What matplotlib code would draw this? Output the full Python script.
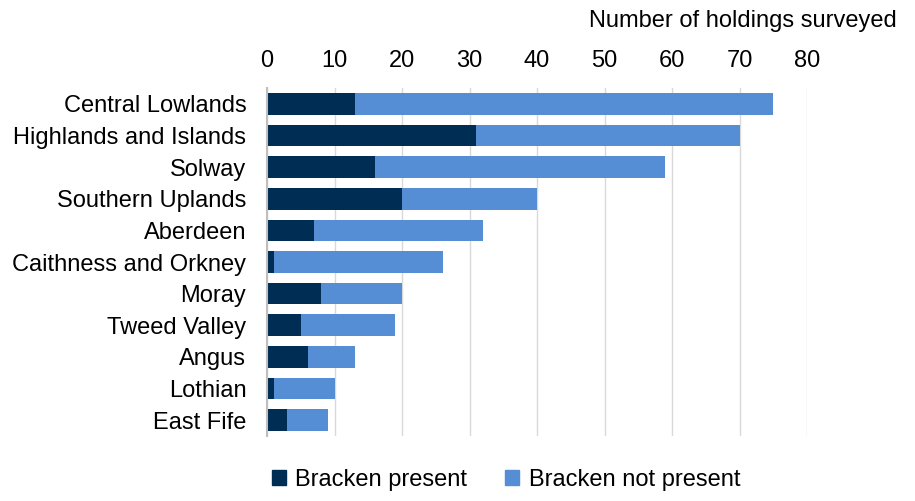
import matplotlib.pyplot as plt
from matplotlib.patches import Patch

plt.rcParams['font.family'] = ['Liberation Sans', 'DejaVu Sans']

regions = ["Central Lowlands", "Highlands and Islands", "Solway", "Southern Uplands",
           "Aberdeen", "Caithness and Orkney", "Moray", "Tweed Valley", "Angus",
           "Lothian", "East Fife"]
present = [13, 31, 16, 20, 7, 1, 8, 5, 6, 1, 3]
not_present = [62, 39, 43, 20, 25, 25, 12, 14, 7, 9, 6]

DARK = "#002D54"
LIGHT = "#558ED5"
FS = 17

fig = plt.figure(figsize=(9.15, 5.01), dpi=100)
ax = fig.add_axes([0.292, 0.130, 0.590, 0.694])

y = list(range(len(regions)))
ax.barh(y, present, height=0.68, color=DARK, zorder=3)
ax.barh(y, not_present, left=present, height=0.68, color=LIGHT, zorder=3)

ax.set_xlim(0, 80)
ax.set_ylim(len(regions) - 0.5, -0.5)
ax.set_yticks(y)
ax.set_yticklabels(regions, fontsize=FS)
ax.set_xticks(range(0, 81, 10))
ax.xaxis.tick_top()
ax.tick_params(axis='x', labelsize=FS, length=0, pad=12)
ax.tick_params(axis='y', length=0, pad=15)
ax.grid(axis='x', color="#D9D9D9", linewidth=1, zorder=0)
for s in ["top", "right", "bottom"]:
    ax.spines[s].set_visible(False)
ax.spines["left"].set_color("#BFBFBF")
ax.spines["left"].set_linewidth(1.5)
ax.spines["left"].set_zorder(4)

fig.text(0.980, 0.958, "Number of holdings surveyed", ha="right", va="center", fontsize=FS)

handles = [Patch(color=DARK, label="Bracken present"),
           Patch(color=LIGHT, label="Bracken not present")]
fig.legend(handles=handles, loc="center", bbox_to_anchor=(0.553, 0.042), ncol=2,
           frameon=False, fontsize=FS, handlelength=0.6, handleheight=0.6,
           handletextpad=0.4, columnspacing=1.6)

fig.savefig("out.png", dpi=100)
